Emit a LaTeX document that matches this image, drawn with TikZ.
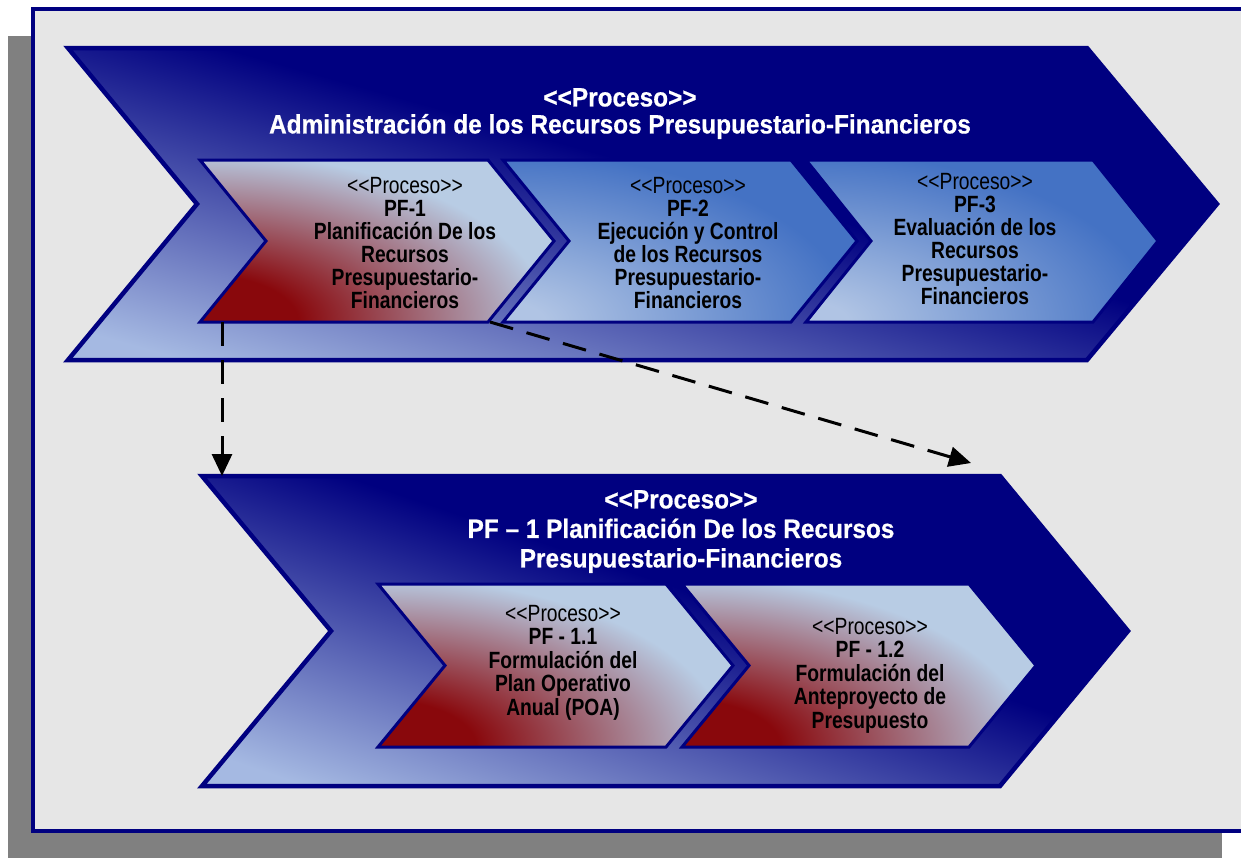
\documentclass[tikz,border=0pt]{standalone}
\usepackage{fontspec}
\usetikzlibrary{arrows.meta}
\newfontfamily\nar[FakeStretch=0.82]{Liberation Sans}
\newfontfamily\tit[FakeStretch=0.92,FakeBold=0.6]{Liberation Sans}
\definecolor{navy}{RGB}{0,0,128}
\definecolor{framebg}{RGB}{230,230,230}
\definecolor{shadowgray}{RGB}{128,128,128}
\definecolor{redR}{RGB}{137,8,12}
\definecolor{redL}{RGB}{184,204,228}
\definecolor{bluD}{RGB}{68,114,196}
\definecolor{bluL}{RGB}{176,196,228}
% box-relative diagonal gradient: light (165,185,226) -> navy (0,0,128)
\pgfdeclarefunctionalshading{bigfA}{\pgfpointorigin}{\pgfpoint{100bp}{100bp}}{}{
  0.01934 mul exch 0.02 mul add 1.086 sub
  dup 0 lt {pop 0} if dup 1 gt {pop 1} if
  dup -0.647 mul 0.647 add exch
  dup -0.725 mul 0.725 add exch
  -0.384 mul 0.886 add
}
\pgfdeclarefunctionalshading{bigfB}{\pgfpointorigin}{\pgfpoint{100bp}{100bp}}{}{
  0.01922 mul exch 0.01926 mul add 1.072 sub
  dup 0 lt {pop 0} if dup 1 gt {pop 1} if
  dup -0.647 mul 0.647 add exch
  dup -0.725 mul 0.725 add exch
  -0.384 mul 0.886 add
}
\pgfdeclareradialshading{redrad}{\pgfpoint{0bp}{0bp}}{color(0bp)=(redR); color(7bp)=(redR); color(25bp)=(redL); color(50bp)=(redL)}
\pgfdeclareradialshading{blurad}{\pgfpoint{0bp}{0bp}}{color(0bp)=(bluL); color(3bp)=(bluL); color(25bp)=(bluD); color(50bp)=(bluD)}
\newcommand\myR{\rule[-7pt]{0pt}{20pt}}
\newcommand\myB{\bfseries\rule[-7pt]{0pt}{20pt}}
\newcommand\myT{\rule[-7pt]{0pt}{22pt}}
% x1 y1 x2 y2 depth basecolor shading
\newcommand\innerchev[7]{%
  \def\chp{(#1,#2) -- (#3,#2) -- ({#3+#5},{(#2+#4)/2}) -- (#3,#4) -- (#1,#4) -- ({#1+#5},{(#2+#4)/2}) -- cycle}%
  \fill[#6] \chp;
  \begin{scope}
    \clip \chp;
    \shade[shading=#7] (#1,#4) ellipse [x radius=350, y radius=170];
  \end{scope}
  \draw[innerline] \chp;
}
\tikzset{
  bigline/.style={draw=navy, line width=4.5pt},
  innerline/.style={draw=navy, line width=3pt},
  innertext/.style={anchor=north, inner sep=0pt, align=center, text=black,
    font={\nar\fontsize{23.5}{23}\selectfont\lineskiplimit=-50pt}},
  innertextb/.style={innertext,
    font={\nar\fontsize{23.5}{23.5}\selectfont\lineskiplimit=-50pt}},
  titletext/.style={anchor=north, inner sep=0pt, align=center, text=white,
    font={\tit\bfseries\fontsize{26.5}{27}\selectfont\lineskiplimit=-50pt}},
  titletextb/.style={titletext,
    font={\tit\bfseries\fontsize{26.5}{29.5}\selectfont\lineskiplimit=-50pt}},
  dasharrow/.style={draw=black, line width=3pt, dash pattern=on 24pt off 14pt,
    -{Triangle[length=22pt,width=20pt]}}
}
\begin{document}
\begin{tikzpicture}[x=1pt,y=-1pt]
\useasboundingbox (0,0) rectangle (1241,860);
% frame and shadow
\fill[shadowgray] (8,36) rectangle (1222,858);
\filldraw[fill=framebg, draw=navy, line width=4pt] (33,9) rectangle (1252,831);
% top big chevron
\shadedraw[bigline, shading=bigfA] (68,48) -- (1087,48) -- (1217,204) -- (1087,360) -- (68,360) -- (197,204) -- cycle;
\node[titletext] (t0) at (620,88) {\myT<<Proceso>>\\\myT Administración de los Recursos Presupuestario-Financieros};
% top inner chevrons
\innerchev{200}{160}{488}{322}{66}{redL}{redrad}
\innerchev{503}{160}{791}{322}{66}{bluD}{blurad}
\innerchev{806}{160}{1093}{322}{65}{bluD}{blurad}
\node[innertext] (pf1) at (405,177) {\myR<<Proceso>>\\\myB PF-1\\\myB Planificación De los\\\myB Recursos\\\myB Presupuestario-\\\myB Financieros};
\node[innertext] (pf2) at (688,177) {\myR<<Proceso>>\\\myB PF-2\\\myB Ejecución y Control\\\myB de los Recursos\\\myB Presupuestario-\\\myB Financieros};
\node[innertext] (pf3) at (975,173) {\myR<<Proceso>>\\\myB PF-3\\\myB Evaluación de los\\\myB Recursos\\\myB Presupuestario-\\\myB Financieros};
% lower big chevron
\shadedraw[bigline, shading=bigfB] (202,476) -- (1000,476) -- (1128,631) -- (1000,786) -- (202,786) -- (331,631) -- cycle;
\node[titletextb] (t1) at (681,490) {\myT<<Proceso>>\\\myT PF – 1 Planificación De los Recursos\\\myT Presupuestario-Financieros};
% lower inner chevrons
\innerchev{378}{584}{666}{747}{67}{redL}{redrad}
\innerchev{682}{584}{969}{747}{67}{redL}{redrad}
\node[innertextb] (pf11) at (563,605) {\myR<<Proceso>>\\\myB PF - 1.1\\\myB Formulación del\\\myB Plan Operativo\\\myB Anual (POA)};
\node[innertextb] (pf12) at (870,618) {\myR<<Proceso>>\\\myB PF - 1.2\\\myB Formulación del\\\myB Anteproyecto de\\\myB Presupuesto};
% connectors
\coordinate (a1s) at (222,322);
\coordinate (a1e) at (222,476);
\coordinate (a2s) at (490,322);
\coordinate (a2e) at (971,463);
\draw[dasharrow] (a1s) -- (a1e);
\draw[dasharrow] (a2s) -- (a2e);
\end{tikzpicture}
\end{document}
